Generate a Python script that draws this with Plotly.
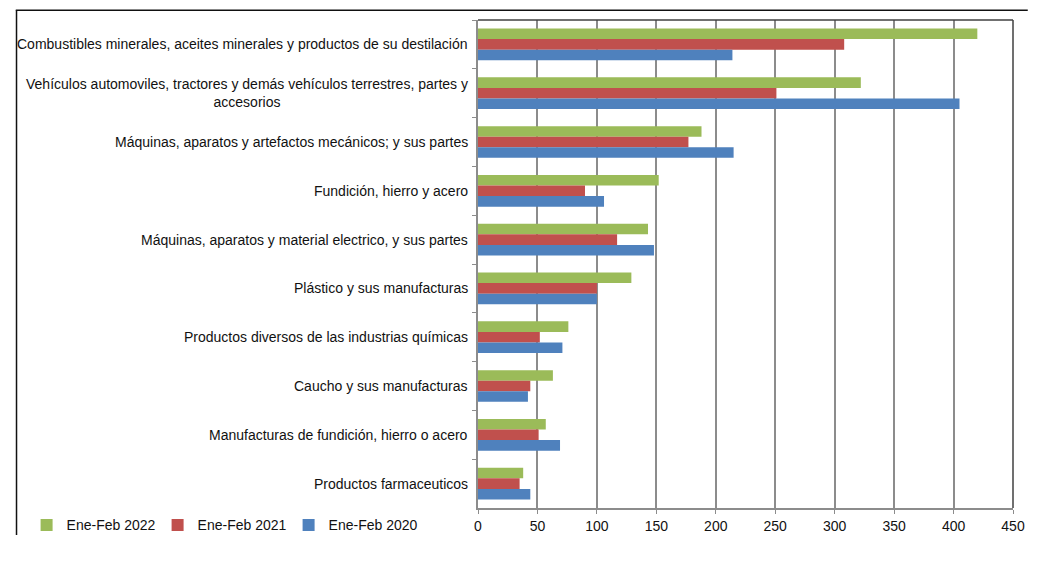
import plotly.graph_objects as go

categories = [
    "Combustibles minerales, aceites minerales y productos de su destilación",
    "Vehículos automoviles, tractores y demás vehículos terrestres, partes y<br>accesorios",
    "Máquinas, aparatos y artefactos mecánicos; y sus partes",
    "Fundición, hierro y acero",
    "Máquinas, aparatos y material electrico, y sus partes",
    "Plástico y sus manufacturas",
    "Productos diversos de las industrias químicas",
    "Caucho y sus manufacturas",
    "Manufacturas de fundición, hierro o acero",
    "Productos farmaceuticos",
]
cat_ids = [f"c{i}" for i in range(len(categories))]

ene_feb_2022 = [420, 322, 188, 152, 143, 129, 76, 63, 57, 38]
ene_feb_2021 = [308, 251, 177, 90, 117, 100, 52, 44, 51, 35]
ene_feb_2020 = [214, 405, 215, 106, 148, 100, 71, 42, 69, 44]

series = [
    ("Ene-Feb 2022", ene_feb_2022, "#9BBB59"),
    ("Ene-Feb 2021", ene_feb_2021, "#C0504D"),
    ("Ene-Feb 2020", ene_feb_2020, "#4F81BD"),
]
x_ticks = [0, 50, 100, 150, 200, 250, 300, 350, 400, 450]

fig = go.Figure()
for name, vals, color in series:
    fig.add_trace(go.Bar(
        y=cat_ids, x=vals, name=name, orientation="h",
        marker=dict(color=color, line=dict(width=0)),
    ))

font = "Liberation Sans, Arial, sans-serif"
# the page has an 8px body margin; the figure fits inside it without overflow
W, H = 1029, 545
L, R, T, B = 470, 15, 12, 28
pw, ph = W - L - R, H - T - B

annotations = []
for cid, label in zip(cat_ids, categories):
    annotations.append(dict(
        x=0, xref="paper", y=cid, yref="y", xanchor="right", yanchor="middle",
        xshift=-8, text=label, showarrow=False, align="center",
        font=dict(family=font, size=14, color="#111111"),
    ))

fig.update_layout(
    width=W, height=H,
    margin=dict(l=L, r=R, t=T, b=B),
    paper_bgcolor="white", plot_bgcolor="white",
    barmode="group", bargap=0.35, bargroupgap=0,
    font=dict(family=font, size=14, color="#111111"),
    showlegend=True,
    legend=dict(
        orientation="h", x=(11 - L) / pw, xanchor="left",
        y=(-(535 - (T + ph))) / ph, yanchor="middle",
        font=dict(family=font, size=14, color="#111111"),
        entrywidth=86, entrywidthmode="pixels",
        traceorder="normal", bgcolor="rgba(0,0,0,0)",
    ),
    xaxis=dict(
        range=[0, 450], tickvals=x_ticks, ticktext=[str(v) for v in x_ticks],
        showgrid=True, gridcolor="#8c8c8c", gridwidth=1.5,
        zeroline=False, showline=True, linecolor="#8c8c8c", linewidth=1.5,
        ticks="outside", ticklen=4, tickcolor="#8c8c8c",
        tickfont=dict(family=font, size=14, color="#111111"),
        mirror=False, fixedrange=True,
    ),
    yaxis=dict(
        categoryorder="array", categoryarray=cat_ids, autorange="reversed",
        showticklabels=False, showgrid=False, zeroline=False,
        showline=True, linecolor="#8c8c8c", linewidth=1.5,
        ticks="outside", ticklen=4, tickcolor="#8c8c8c", tickson="boundaries",
    ),
    annotations=annotations,
    shapes=[
        # plot area frame (top and right)
        dict(type="line", xref="paper", yref="paper", x0=0, x1=1, y0=1, y1=1,
             line=dict(color="#404040", width=1.5)),
        dict(type="line", xref="paper", yref="paper", x0=1, x1=1, y0=0, y1=1,
             line=dict(color="#404040", width=1.5)),
        # outer chart frame: left and top edges only
        dict(type="line", xref="paper", yref="paper",
             x0=(0.75 - L) / pw, x1=(0.75 - L) / pw,
             y0=(T + ph - H) / ph, y1=(T + ph - 2) / ph,
             line=dict(color="#111111", width=1.5)),
        dict(type="line", xref="paper", yref="paper",
             x0=(0 - L) / pw, x1=(W - L) / pw,
             y0=(T + ph - 2) / ph, y1=(T + ph - 2) / ph,
             line=dict(color="#111111", width=1.5)),
    ],
)

fig.write_html("out.html")
